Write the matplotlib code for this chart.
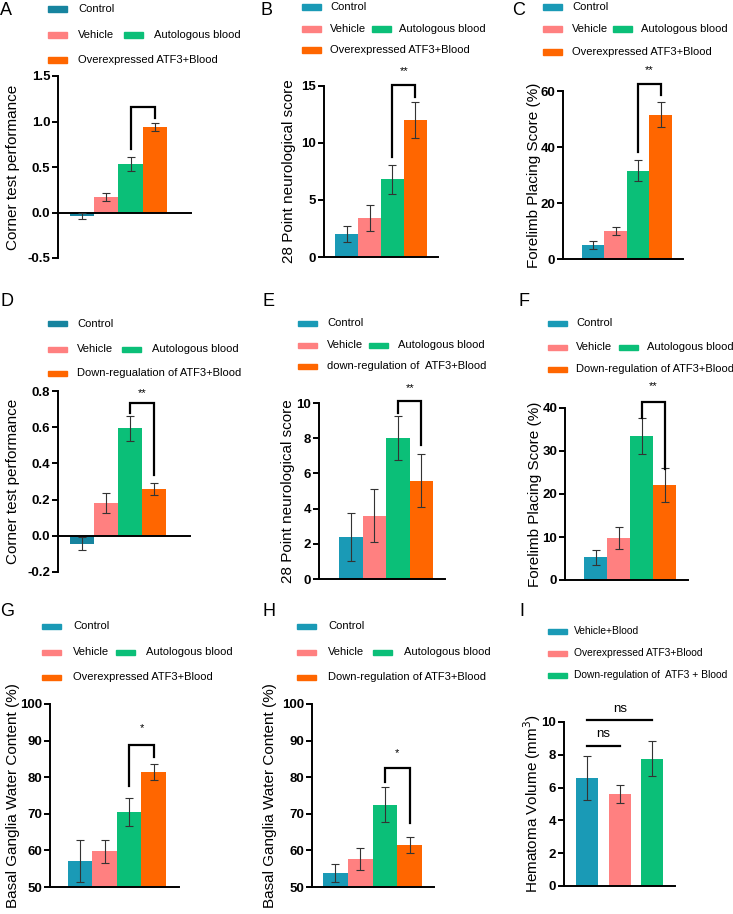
import matplotlib
matplotlib.use("Agg")
import matplotlib.pyplot as plt
from matplotlib.patches import Rectangle

plt.rcParams['font.family'] = ['Liberation Sans', 'DejaVu Sans']

W, H = 733, 914
fig = plt.figure(figsize=(W / 100, H / 100), dpi=100)

# ---------------- data ----------------
groups4_over = ["Control", "Vehicle", "Autologous blood", "Overexpressed ATF3+Blood"]
groups4_down_D = ["Control", "Vehicle", "Autologous blood", "Down-regualation of ATF3+Blood"]
groups4_down_E = ["Control", "Vehicle", "Autologous blood", "down-regulation of  ATF3+Blood"]
groups4_down = ["Control", "Vehicle", "Autologous blood", "Down-regulation of ATF3+Blood"]
groups3_I = ["Vehicle+Blood", "Overexpressed ATF3+Blood", "Down-regulation of  ATF3 + Blood"]

A_vals = [-0.04, 0.17, 0.53, 0.94]
A_errs = [0.035, 0.045, 0.075, 0.04]
B_vals = [2.0, 3.4, 6.8, 12.0]
B_errs = [0.7, 1.15, 1.3, 1.6]
C_vals = [5.0, 10.0, 31.6, 51.5]
C_errs = [1.4, 1.6, 3.9, 4.5]
D_vals = [-0.044, 0.181, 0.594, 0.259]
D_errs = [0.037, 0.056, 0.068, 0.032]
E_vals = [2.39, 3.6, 8.01, 5.59]
E_errs = [1.35, 1.52, 1.23, 1.5]
F_vals = [5.3, 9.74, 33.4, 22.1]
F_errs = [1.7, 2.5, 4.2, 3.9]
G_vals = [57.2, 59.7, 70.5, 81.4]
G_errs = [5.7, 3.2, 3.8, 2.15]
H_vals = [53.9, 57.6, 72.5, 61.5]
H_errs = [2.5, 3.0, 4.7, 2.15]
I_vals = [6.58, 5.6, 7.77]
I_errs = [1.35, 0.56, 1.08]

TEAL_DARK = "#17849f"
TEAL = "#1a9ab6"
PINK = "#ff8080"
GREEN = "#0bbf78"
ORANGE = "#ff6600"

TICK_FS = 9.5
LEG_FS = 8.0
YLAB_FS = 11


def px_axes(x0, x1, ytop, ybot):
    return fig.add_axes([x0 / W, 1 - ybot / H, (x1 - x0) / W, (ybot - ytop) / H])


def legend(hx, tx, ax2h, ax2t, rows, labels, colors, fs=LEG_FS):
    items = [(hx, tx, rows[0], labels[0], colors[0]),
             (hx, tx, rows[1], labels[1], colors[1])]
    if len(labels) == 4:
        items.append((ax2h, ax2t, rows[1], labels[2], colors[2]))
        items.append((hx, tx, rows[2], labels[3], colors[3]))
    else:
        items.append((hx, tx, rows[2], labels[2], colors[2]))
    for h, t, y, lab, c in items:
        fig.patches.append(Rectangle((h / W, 1 - (y + 2.5) / H), 19 / W, 5 / H,
                                     transform=fig.transFigure, color=c, figure=fig))
        fig.text(t / W, 1 - y / H, lab, fontsize=fs, va='center', ha='left')


def panel(letter, lpos, box, xlim, ylim, yticks, vals, errs, colors, ylabel, ylx,
          leg, bracket=None, star=None, zero_spine=False, width=1.0, yfmt=None,
          leg_fs=LEG_FS):
    ax = px_axes(*box)
    x = list(range(len(vals)))
    ax.bar(x, vals, width=width, color=colors, zorder=2)
    ax.errorbar(x, vals, yerr=errs, fmt='none', ecolor='#333333', elinewidth=0.8,
                capsize=3, capthick=0.8, zorder=3)
    ax.set_xlim(*xlim)
    ax.set_ylim(*ylim)
    ax.set_yticks(yticks)
    if yfmt:
        ax.set_yticklabels([yfmt.format(v) for v in yticks])
    for lab in ax.get_yticklabels():
        lab.set_fontweight('bold')
        lab.set_fontsize(TICK_FS)
    ax.tick_params(axis='y', direction='out', length=4, width=1.4, pad=1.5)
    ax.set_xticks([])
    for s in ['top', 'right']:
        ax.spines[s].set_visible(False)
    ax.spines['left'].set_linewidth(1.4)
    ax.spines['bottom'].set_linewidth(1.4)
    if zero_spine:
        ax.spines['bottom'].set_position(('data', 0))
    ax.patch.set_alpha(0)
    ytop, ybot = box[2], box[3]
    fig.text(ylx / W, 1 - (ytop + ybot) / 2 / H, ylabel, rotation=90, fontsize=YLAB_FS,
             va='center', ha='center')
    fig.text(lpos[0] / W, 1 - lpos[1] / H, letter, fontsize=13, va='top', ha='left')
    if bracket:
        i, j, top, yl, yr = bracket
        ax.plot([i, i, j, j], [yl, top, top, yr], color='black', lw=1.6,
                clip_on=False, zorder=4, solid_joinstyle='miter')
    if star:
        sx, sy, stxt = star
        ax.text(sx, sy, stxt, ha='center', va='center', fontsize=8, clip_on=False)
    legend(*leg, fs=leg_fs)
    return ax


cols_dark = [TEAL_DARK, PINK, GREEN, ORANGE]
cols = [TEAL, PINK, GREEN, ORANGE]

# A
panel("A", (0, 2), (58, 191, 76, 258), (-1.0, 4.5), (-0.5, 1.5),
      [-0.5, 0.0, 0.5, 1.0, 1.5], A_vals, A_errs, cols_dark,
      "Corner test performance", 13,
      (48, 78, 124, 154, (9, 35, 60), groups4_over, cols_dark),
      bracket=(2, 3, 1.16, 0.70, 1.04), zero_spine=True, yfmt="{:.1f}")

# B
panel("B", (261, 2), (324, 438, 86, 257), (-1.0, 4.0), (0, 15),
      [0, 5, 10, 15], B_vals, B_errs, cols,
      "28 Point neurological score", 289,
      (302, 330, 372, 399, (7, 29, 50), groups4_over, cols),
      bracket=(2, 3, 15.1, 8.8, 14.0), star=(2.5, 16.3, "**"))

# C
panel("C", (512, 2), (563, 683, 91, 259), (-1.35, 4.0), (0, 60),
      [0, 20, 40, 60], C_vals, C_errs, cols,
      "Forelimb Placing Score (%)", 534,
      (543, 572, 613, 641, (7, 29, 52), groups4_over, cols),
      bracket=(2, 3, 62.6, 38.2, 58.4), star=(2.5, 67.3, "**"))

# D
panel("D", (0, 293), (58, 190, 391, 572), (-1.0, 4.5), (-0.2, 0.8),
      [-0.2, 0.0, 0.2, 0.4, 0.6, 0.8], D_vals, D_errs, cols_dark,
      "Corner test performance", 13,
      (48, 77, 122, 152, (324, 349, 373), groups4_down_D, cols_dark),
      bracket=(2, 3, 0.731, 0.676, 0.337), star=(2.5, 0.79, "**"),
      zero_spine=True, yfmt="{:.1f}")

# E
panel("E", (263, 293), (319, 445, 403, 579), (-1.35, 4.0), (0, 10),
      [0, 2, 4, 6, 8, 10], E_vals, E_errs, cols,
      "28 Point neurological score", 288,
      (298, 327, 369, 398, (323, 345, 366), groups4_down_E, cols),
      bracket=(2, 3, 10.1, 9.43, 7.6), star=(2.5, 10.85, "**"))

# F
panel("F", (519, 293), (565, 688, 408, 580), (-1.33, 4.02), (0, 40),
      [0, 10, 20, 30, 40], F_vals, F_errs, cols,
      "Forelimb Placing Score (%)", 535,
      (548, 576, 619, 647, (323, 347, 369), groups4_down, cols),
      bracket=(2, 3, 41.4, 37.6, 25.8), star=(2.5, 45.0, "**"))

# G
panel("G", (0, 603), (50, 179, 704, 887), (-1.23, 4.03), (50, 100),
      [50, 60, 70, 80, 90, 100], G_vals, G_errs, cols,
      "Basal Ganglia Water Content (%)", 13,
      (42, 73, 116, 146, (626, 652, 677), groups4_over, cols),
      bracket=(2, 3, 88.8, 77.6, 85.4), star=(2.5, 93.4, "*"))

# H
panel("H", (263, 603), (312, 434, 704, 887), (-0.94, 3.98), (50, 100),
      [50, 60, 70, 80, 90, 100], H_vals, H_errs, cols,
      "Basal Ganglia Water Content (%)", 270,
      (297, 328, 373, 404, (626, 652, 677), groups4_down, cols),
      bracket=(2, 3, 82.6, 78.8, 67.4), star=(2.5, 86.5, "*"))

# I
axI = panel("I", (519, 603), (564, 675, 722, 886), (-0.7, 2.69), (0, 10),
            [0, 2, 4, 6, 8, 10], I_vals, I_errs, [TEAL, PINK, GREEN],
            "Hematoma Volume (mm$^3$)", 532,
            (548, 574, None, None, (631, 653, 675), groups3_I, [TEAL, PINK, GREEN]),
            width=0.67, leg_fs=7.4)
axI.plot([0, 2], [10.1, 10.1], color='black', lw=1.6, clip_on=False)
axI.text(1, 10.8, "ns", ha='center', va='center', fontsize=9.5, clip_on=False)
axI.plot([0, 1], [8.54, 8.54], color='black', lw=1.6, clip_on=False)
axI.text(0.5, 9.25, "ns", ha='center', va='center', fontsize=9.5, clip_on=False)

fig.savefig("out.png", dpi=100)
